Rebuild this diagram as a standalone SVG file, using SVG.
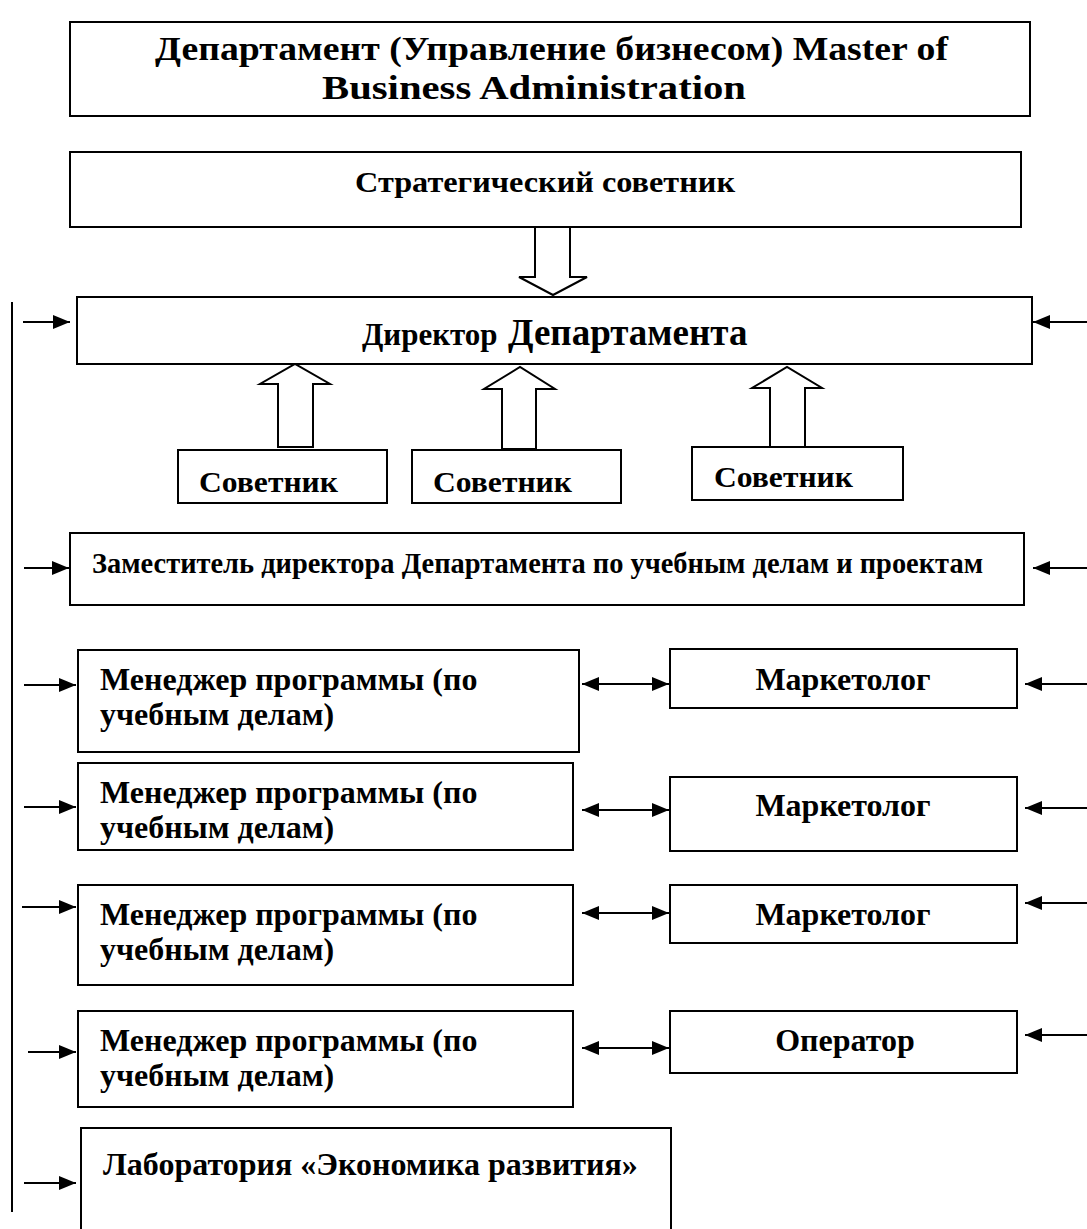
<svg xmlns="http://www.w3.org/2000/svg" width="1087" height="1229" viewBox="0 0 1087 1229">
<style>
.box{fill:#fff;stroke:#000;stroke-width:2}
.hol{fill:#fff;stroke:#000;stroke-width:2;stroke-linejoin:miter}
.t{font-family:"Liberation Serif","Times New Roman",serif;font-weight:bold;fill:#000}
.ln{stroke:#000;stroke-width:2;fill:none}
</style>
<defs>
<marker id="ah" viewBox="0 0 17 14" refX="17" refY="7" markerWidth="17" markerHeight="14" markerUnits="userSpaceOnUse" orient="auto-start-reverse">
<path d="M0,0 L17,7 L0,14 Z" fill="#000"/>
</marker>
</defs>
<rect width="1087" height="1229" fill="#fff"/>

<g id="connectors">
<line class="ln" x1="12" y1="302" x2="12" y2="1212"/>
<path class="hol" d="M535,227 L570,227 L570,277 L587,277 L553,295 L519,277 L535,277 Z"/>
<path class="hol" d="M278,447 L278,384 L260,384 L295,364 L330,384 L313,384 L313,447 Z"/>
<path class="hol" d="M502,449 L502,389 L484,389 L520,367 L555,389 L536,389 L536,449 Z"/>
<path class="hol" d="M770,447 L770,388 L752,388 L787,367 L822,388 L805,388 L805,447 Z"/>
<line class="ln" x1="23" y1="322" x2="70" y2="322" marker-end="url(#ah)"/>
<line class="ln" x1="24" y1="568" x2="69" y2="568" marker-end="url(#ah)"/>
<line class="ln" x1="24" y1="685" x2="76" y2="685" marker-end="url(#ah)"/>
<line class="ln" x1="24" y1="807" x2="76" y2="807" marker-end="url(#ah)"/>
<line class="ln" x1="22" y1="907" x2="76" y2="907" marker-end="url(#ah)"/>
<line class="ln" x1="28" y1="1052" x2="76" y2="1052" marker-end="url(#ah)"/>
<line class="ln" x1="24" y1="1183" x2="76" y2="1183" marker-end="url(#ah)"/>
<line class="ln" x1="1087" y1="322" x2="1033" y2="322" marker-end="url(#ah)"/>
<line class="ln" x1="1087" y1="568" x2="1033" y2="568" marker-end="url(#ah)"/>
<line class="ln" x1="1087" y1="684" x2="1025" y2="684" marker-end="url(#ah)"/>
<line class="ln" x1="1087" y1="808" x2="1025" y2="808" marker-end="url(#ah)"/>
<line class="ln" x1="1087" y1="903" x2="1025" y2="903" marker-end="url(#ah)"/>
<line class="ln" x1="1087" y1="1035" x2="1025" y2="1035" marker-end="url(#ah)"/>
<line class="ln" x1="582" y1="684" x2="669" y2="684" marker-start="url(#ah)" marker-end="url(#ah)"/>
<line class="ln" x1="582" y1="810" x2="669" y2="810" marker-start="url(#ah)" marker-end="url(#ah)"/>
<line class="ln" x1="582" y1="913" x2="669" y2="913" marker-start="url(#ah)" marker-end="url(#ah)"/>
<line class="ln" x1="582" y1="1048" x2="669" y2="1048" marker-start="url(#ah)" marker-end="url(#ah)"/>
</g>

<g id="title">
<rect class="box" x="70" y="22" width="960" height="94"/>
<text class="t" font-size="33" x="155" y="60" textLength="793" lengthAdjust="spacingAndGlyphs">Департамент (Управление бизнесом) Master of</text>
<text class="t" font-size="33" x="322" y="99" textLength="424" lengthAdjust="spacingAndGlyphs">Business Administration</text>
</g>

<g id="strategic">
<rect class="box" x="70" y="152" width="951" height="75"/>
<text class="t" font-size="29" x="355" y="192" textLength="380" lengthAdjust="spacingAndGlyphs">Стратегический советник</text>
</g>

<g id="director">
<rect class="box" x="77" y="297" width="955" height="67"/>
<text class="t" x="362" y="345"><tspan font-size="31">Директор</tspan><tspan x="508" font-size="37">Департамента</tspan></text>
</g>

<g id="advisor1">
<rect class="box" x="178" y="450" width="209" height="53"/>
<text class="t" font-size="30" x="199" y="492" textLength="139" lengthAdjust="spacingAndGlyphs">Советник</text>
</g>
<g id="advisor2">
<rect class="box" x="412" y="450" width="209" height="53"/>
<text class="t" font-size="30" x="433" y="492" textLength="139" lengthAdjust="spacingAndGlyphs">Советник</text>
</g>
<g id="advisor3">
<rect class="box" x="692" y="447" width="211" height="53"/>
<text class="t" font-size="30" x="714" y="487" textLength="139" lengthAdjust="spacingAndGlyphs">Советник</text>
</g>

<g id="deputy">
<rect class="box" x="70" y="533" width="954" height="72"/>
<text class="t" font-size="29" x="92" y="573" textLength="891" lengthAdjust="spacingAndGlyphs">Заместитель директора Департамента по учебным делам и проектам</text>
</g>

<g id="manager1">
<rect class="box" x="78" y="650" width="501" height="102"/>
<text class="t" font-size="32" x="100" y="690">Менеджер программы (по</text>
<text class="t" font-size="32" x="100" y="725">учебным делам)</text>
</g>
<g id="marketer1">
<rect class="box" x="670" y="649" width="347" height="59"/>
<text class="t" font-size="32" x="843" y="690" text-anchor="middle">Маркетолог</text>
</g>

<g id="manager2">
<rect class="box" x="78" y="763" width="495" height="87"/>
<text class="t" font-size="32" x="100" y="803">Менеджер программы (по</text>
<text class="t" font-size="32" x="100" y="838">учебным делам)</text>
</g>
<g id="marketer2">
<rect class="box" x="670" y="777" width="347" height="74"/>
<text class="t" font-size="32" x="843" y="816" text-anchor="middle">Маркетолог</text>
</g>

<g id="manager3">
<rect class="box" x="78" y="885" width="495" height="100"/>
<text class="t" font-size="32" x="100" y="925">Менеджер программы (по</text>
<text class="t" font-size="32" x="100" y="960">учебным делам)</text>
</g>
<g id="marketer3">
<rect class="box" x="670" y="885" width="347" height="58"/>
<text class="t" font-size="32" x="843" y="925" text-anchor="middle">Маркетолог</text>
</g>

<g id="manager4">
<rect class="box" x="78" y="1011" width="495" height="96"/>
<text class="t" font-size="32" x="100" y="1051">Менеджер программы (по</text>
<text class="t" font-size="32" x="100" y="1086">учебным делам)</text>
</g>
<g id="operator">
<rect class="box" x="670" y="1011" width="347" height="62"/>
<text class="t" font-size="32" x="845" y="1051" text-anchor="middle">Оператор</text>
</g>

<g id="lab">
<path class="ln" d="M81,1232 L81,1128 L671,1128 L671,1232"/>
<text class="t" font-size="32" x="103" y="1175">Лаборатория «Экономика развития»</text>
</g>
</svg>
